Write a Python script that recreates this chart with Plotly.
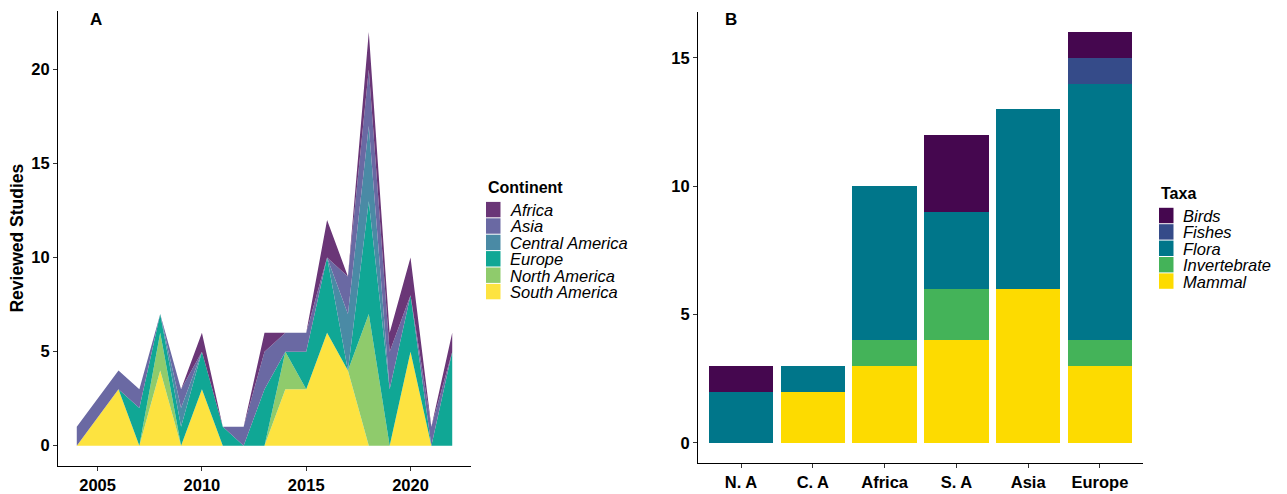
import plotly.graph_objects as go

# ---- Panel A: reviewed studies per year, stacked by continent ----
years = [2004, 2006, 2007, 2008, 2009, 2010, 2011, 2012, 2013,
         2014, 2015, 2016, 2017, 2018, 2019, 2020, 2021, 2022]
south_america = [0, 3, 0, 4, 0, 3, 0, 0, 0, 3, 3, 6, 4, 0, 0, 5, 0, 0]
north_america = [0, 0, 0, 2, 0, 0, 0, 0, 0, 2, 0, 0, 0, 7, 0, 0, 0, 0]
europe =        [0, 0, 2, 1, 1, 2, 1, 0, 3, 0, 2, 4, 0, 6, 3, 3, 0, 5]
central_america = [0, 0, 0, 0, 1, 0, 0, 0, 0, 0, 0, 0, 3, 4, 0, 0, 0, 0]
asia =          [1, 1, 1, 0, 1, 0, 0, 1, 2, 1, 1, 0, 2, 3, 2, 0, 1, 0]
africa =        [0, 0, 0, 0, 0, 1, 0, 0, 1, 0, 0, 2, 0, 2, 1, 2, 0, 1]

continents = ["Africa", "Asia", "Central America", "Europe",
              "North America", "South America"]
continent_colors = ["#6a3677", "#6a69a3", "#4a8aa5", "#10a795",
                    "#8fcb6c", "#fde340"]

# ---- Panel B: studies per region, stacked by taxa ----
regions = ["N. A", "C. A", "Africa", "S. A", "Asia", "Europe"]
mammal =       [0, 2, 3, 4, 6, 3]
invertebrate = [0, 0, 1, 2, 0, 1]
flora =        [2, 1, 6, 3, 7, 10]
fishes =       [0, 0, 0, 0, 0, 1]
birds =        [1, 0, 0, 3, 0, 1]

taxa = ["Birds", "Fishes", "Flora", "Invertebrate", "Mammal"]
taxa_colors = ["#45074f", "#354b89", "#00768a", "#44b359", "#fddb00"]

W, H = 1287, 494
FONT = "Liberation Sans, Arial, sans-serif"

fig = go.Figure()

# stacked areas, bottom layer first
area_series = [
    ("South America", south_america),
    ("North America", north_america),
    ("Europe", europe),
    ("Central America", central_america),
    ("Asia", asia),
    ("Africa", africa),
]
for name, vals in area_series:
    col = continent_colors[continents.index(name)]
    fig.add_trace(go.Scatter(
        x=years, y=vals, name=name, mode="lines",
        stackgroup="cont", line=dict(width=0, color=col),
        fillcolor=col, xaxis="x", yaxis="y", showlegend=False,
    ))

# stacked bars, bottom layer first
bar_series = [
    ("Mammal", mammal),
    ("Invertebrate", invertebrate),
    ("Flora", flora),
    ("Fishes", fishes),
    ("Birds", birds),
]
for name, vals in bar_series:
    col = taxa_colors[taxa.index(name)]
    fig.add_trace(go.Bar(
        x=regions, y=vals, name=name, marker=dict(color=col, line=dict(width=0)),
        xaxis="x2", yaxis="y2", showlegend=False,
    ))

def px_x(p):
    return p / W

def px_y(p):
    return 1 - p / H

tickfont = dict(family=FONT, size=16.5, color="black", weight=700)
axis_common = dict(
    showgrid=False, zeroline=False, showline=True, linecolor="black",
    linewidth=1.1, ticks="outside", ticklen=4, tickcolor="#333333",
    tickwidth=1, tickfont=tickfont,
)

fig.update_layout(
    width=W, height=H,
    margin=dict(l=0, r=0, t=0, b=0),
    paper_bgcolor="white", plot_bgcolor="white",
    barmode="stack", bargap=0.1,
    font=dict(family=FONT, color="black"),
    xaxis=dict(domain=[px_x(58), px_x(471)], range=[2003.1, 2022.9],
               tickvals=[2005, 2010, 2015, 2020], anchor="y", **axis_common),
    yaxis=dict(domain=[px_y(475), px_y(11.5)], range=[-1.1, 23.1],
               tickvals=[0, 5, 10, 15, 20], anchor="x", **axis_common),
    xaxis2=dict(domain=[px_x(698), px_x(1143)], range=[-0.6, 5.6],
                type="category", anchor="y2", **axis_common),
    yaxis2=dict(domain=[px_y(472), px_y(12)], range=[-0.8, 16.8],
                tickvals=[0, 5, 10, 15], anchor="x2", **axis_common),
)

annotations = []
shapes = []

def note(text, x, y, size, xanchor="center", yanchor="middle", angle=0):
    annotations.append(dict(text=text, x=px_x(x), y=px_y(y), xref="paper", yref="paper",
                            showarrow=False, xanchor=xanchor, yanchor=yanchor,
                            textangle=angle,
                            font=dict(family=FONT, size=size, color="black")))

# panel tags
note("<b>A</b>", 96, 20, 17)
note("<b>B</b>", 731, 20, 17)

# y-axis title of panel A
note("<b>Reviewed Studies</b>", 17, 243, 17.5, angle=-90)

def add_legend(title, labels, colors, key_x, title_y, first_y, step=16.7):
    note(f"<b>{title}</b>", key_x, title_y, 16, xanchor="left")
    for i, (lab, col) in enumerate(zip(labels, colors)):
        cy = first_y + i * step
        shapes.append(dict(type="rect", xref="paper", yref="paper",
                           x0=px_x(key_x), x1=px_x(key_x + 14.5),
                           y0=px_y(cy - step / 2 + 0.5), y1=px_y(cy + step / 2 - 0.5),
                           fillcolor=col, line=dict(width=0)))
        note(f"<i>{lab}</i>", key_x + 22, cy + 0.5, 16.5, xanchor="left")

add_legend("Continent", continents, continent_colors, 486, 190.5, 213.5)
add_legend("Taxa", taxa, taxa_colors, 1159, 197, 219.5)

fig.update_layout(annotations=annotations, shapes=shapes)

fig.write_html("out.html")
